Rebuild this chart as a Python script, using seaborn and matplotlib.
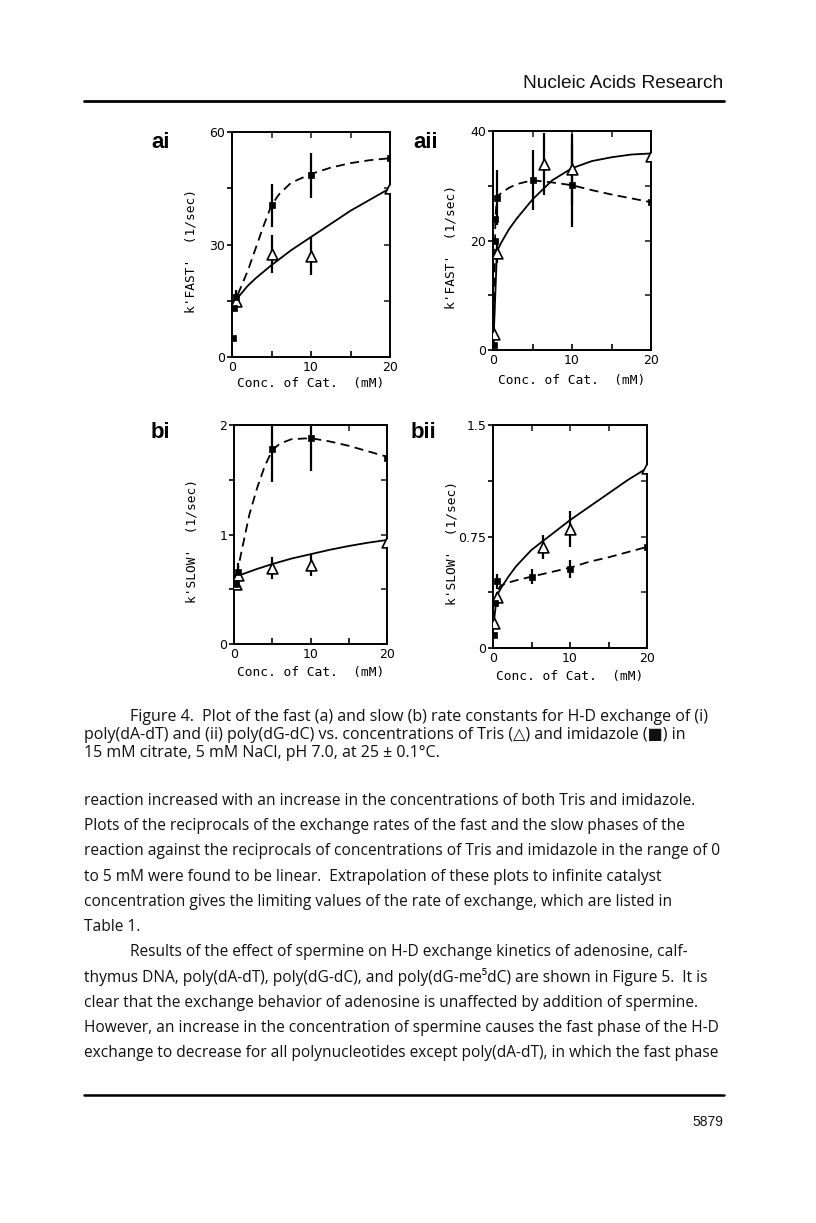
import matplotlib
matplotlib.use("Agg")
import matplotlib.pyplot as plt
import seaborn as sns

# ---------------- data ----------------
# Panel ai : k'FAST', poly(dA-dT)
ai_tris_x = [0.5, 5, 10, 20]
ai_tris_y = [15, 27.5, 27, 45]
ai_tris_err = [2, 5, 5, 0]
ai_imid_x = [0.1, 0.2, 0.5, 5, 10, 20]
ai_imid_y = [5, 13, 16, 40.5, 48.5, 53]
ai_imid_err = [0, 0, 2, 5.7, 6, 0]
ai_tris_fit_x = [0.2, 0.5, 1, 2, 3, 5, 7.5, 10, 12.5, 15, 17.5, 20]
ai_tris_fit_y = [13, 15, 16.5, 19, 21, 24.5, 28.5, 32, 35.5, 39, 42, 45]
ai_imid_fit_x = [0.2, 0.5, 1, 2, 3, 4, 5, 6, 7.5, 10, 12.5, 15, 17.5, 20]
ai_imid_fit_y = [13, 15.5, 18, 23, 29, 35, 40.5, 43.5, 46.5, 48.8, 50.5, 51.7, 52.5, 53]

# Panel aii : k'FAST', poly(dG-dC)
aii_tris_x = [0.1, 0.5, 6.5, 10, 20]
aii_tris_y = [3, 17.8, 34, 33, 35.5]
aii_tris_err = [0, 2, 5.7, 6.5, 0]
aii_imid_x = [0.1, 0.2, 0.3, 0.5, 5, 10, 20]
aii_imid_y = [1, 20, 24, 27.8, 31, 30.1, 27]
aii_imid_err = [0, 0, 0, 5, 5.5, 7.6, 0]
aii_tris_fit_x = [0.1, 0.5, 1, 2, 3, 5, 7.5, 10, 12.5, 15, 17.5, 20]
aii_tris_fit_y = [3, 18, 19.5, 22, 24, 27.5, 31, 33.2, 34.5, 35.2, 35.7, 35.9]
aii_imid_fit_x = [0.1, 0.3, 0.5, 1, 2, 3, 5, 7.5, 10, 12.5, 15, 17.5, 20]
aii_imid_fit_y = [1, 24, 28, 28.6, 29.6, 30.3, 31, 30.6, 30.1, 29.2, 28.4, 27.7, 27]

# Panel bi : k'SLOW', poly(dA-dT)
bi_tris_x = [0.2, 0.5, 5, 10, 20]
bi_tris_y = [0.55, 0.63, 0.69, 0.72, 0.93]
bi_tris_err = [0, 0.05, 0.1, 0.1, 0]
bi_imid_x = [0.2, 0.5, 5, 10, 20]
bi_imid_y = [0.55, 0.66, 1.78, 1.88, 1.70]
bi_imid_err = [0, 0.08, 0.3, 0.3, 0]
bi_tris_fit_x = [0.2, 0.5, 1, 2, 3, 5, 7.5, 10, 12.5, 15, 17.5, 20]
bi_tris_fit_y = [0.58, 0.62, 0.635, 0.66, 0.685, 0.73, 0.78, 0.82, 0.86, 0.895, 0.925, 0.95]
bi_imid_fit_x = [0.2, 0.5, 1, 2, 3, 4, 5, 6, 7.5, 10, 12.5, 15, 17.5, 20]
bi_imid_fit_y = [0.5, 0.68, 0.85, 1.18, 1.42, 1.62, 1.77, 1.83, 1.87, 1.88, 1.85, 1.81, 1.76, 1.71]

# Panel bii : k'SLOW', poly(dG-dC)
bii_tris_x = [0.1, 0.5, 6.5, 10, 20]
bii_tris_y = [0.17, 0.34, 0.68, 0.80, 1.21]
bii_tris_err = [0, 0.04, 0.08, 0.12, 0]
bii_imid_x = [0.1, 0.2, 0.5, 5, 10, 20]
bii_imid_y = [0.09, 0.30, 0.45, 0.48, 0.53, 0.68]
bii_imid_err = [0, 0, 0.05, 0.05, 0.06, 0]
bii_tris_fit_x = [0.1, 0.5, 1, 2, 3, 5, 7.5, 10, 12.5, 15, 17.5, 20]
bii_tris_fit_y = [0.17, 0.35, 0.40, 0.48, 0.55, 0.66, 0.76, 0.86, 0.95, 1.04, 1.13, 1.21]
bii_imid_fit_x = [0.2, 0.5, 1, 2, 3, 5, 7.5, 10, 12.5, 15, 17.5, 20]
bii_imid_fit_y = [0.30, 0.38, 0.42, 0.44, 0.455, 0.48, 0.51, 0.54, 0.58, 0.61, 0.645, 0.68]

x_major = [0, 10, 20]
x_minor = [5, 15]
x_tick_labels = ["0", "10", "20"]
ai_yticks, ai_yminor, ai_ylabels = [0, 30, 60], [15, 45], ["0", "30", "60"]
aii_yticks, aii_yminor, aii_ylabels = [0, 20, 40], [10, 30], ["0", "20", "40"]
bi_yticks, bi_yminor, bi_ylabels = [0, 1, 2], [0.5, 1.5], ["0", "1", "2"]
bii_yticks, bii_yminor, bii_ylabels = [0, 0.75, 1.5], [0.375, 1.125], ["0", "0.75", "1.5"]

x_title = "Conc. of Cat.  (mM)"
fast_title = "k'FAST'  (1/sec)"
slow_title = "k'SLOW'  (1/sec)"

header = "Nucleic Acids Research"
caption_lines = [
    "Figure 4.  Plot of the fast (a) and slow (b) rate constants for H-D exchange of (i)",
    "poly(dA-dT) and (ii) poly(dG-dC) vs. concentrations of Tris (\u25b3) and imidazole (\u25a0) in",
    "15 mM citrate, 5 mM NaCl, pH 7.0, at 25 \u00b1 0.1\u00b0C.",
]
body_lines = [
    "reaction increased with an increase in the concentrations of both Tris and imidazole.",
    "Plots of the reciprocals of the exchange rates of the fast and the slow phases of the",
    "reaction against the reciprocals of concentrations of Tris and imidazole in the range of 0",
    "to 5 mM were found to be linear.  Extrapolation of these plots to infinite catalyst",
    "concentration gives the limiting values of the rate of exchange, which are listed in",
    "Table 1.",
    "Results of the effect of spermine on H-D exchange kinetics of adenosine, calf-",
    "thymus DNA, poly(dA-dT), poly(dG-dC), and poly(dG-me\u2075dC) are shown in Figure 5.  It is",
    "clear that the exchange behavior of adenosine is unaffected by addition of spermine.",
    "However, an increase in the concentration of spermine causes the fast phase of the H-D",
    "exchange to decrease for all polynucleotides except poly(dA-dT), in which the fast phase",
]
page_number = "5879"

# ---------------- figure ----------------
sns.set_style("white")
plt.rcParams["font.family"] = ["DejaVu Sans"]

W, H = 816, 1223
fig = plt.figure(figsize=(W / 100, H / 100), dpi=100)
fig.patch.set_facecolor("white")


def add_axes_px(x0, y0, x1, y1):
    return fig.add_axes([x0 / W, 1 - y1 / H, (x1 - x0) / W, (y1 - y0) / H])


MONO = ["DejaVu Sans Mono"]


def panel(box, tx, ty, te, ix, iy, ie, tfx, tfy, ifx, ify,
          yticks, yminor, ylabels, ylab, letter, letter_xy, xlab_y, ylab_x):
    ax = add_axes_px(*box)
    ymax = yticks[-1]
    sns.lineplot(x=tfx, y=tfy, ax=ax, color="black", linewidth=1.3,
                 sort=False, estimator=None, zorder=2)
    sns.lineplot(x=ifx, y=ify, ax=ax, color="black", linewidth=1.3,
                 sort=False, estimator=None, linestyle=(0, (5, 3)), zorder=2)
    ax.errorbar(tx, ty, yerr=te, fmt="none", ecolor="black", elinewidth=1.6,
                capsize=0, zorder=3)
    ax.errorbar(ix, iy, yerr=ie, fmt="none", ecolor="black", elinewidth=1.6,
                capsize=0, zorder=3)
    sns.scatterplot(x=tx, y=ty, ax=ax, marker="^", s=60, facecolor="white",
                    edgecolor="black", linewidth=1.2, zorder=4)
    sns.scatterplot(x=ix, y=iy, ax=ax, marker="s", s=24, color="black",
                    edgecolor="black", linewidth=0.5, zorder=4)
    ax.set_xlim(0, 20)
    ax.set_ylim(0, ymax)
    ax.set_xticks(x_major)
    ax.set_xticks(x_minor, minor=True)
    ax.set_xticklabels(x_tick_labels)
    ax.set_yticks(yticks)
    ax.set_yticks(yminor, minor=True)
    ax.set_yticklabels(ylabels)
    for s in ax.spines.values():
        s.set_visible(True)
        s.set_linewidth(1.4)
        s.set_color("black")
    ax.tick_params(axis="x", which="both", direction="in", bottom=True,
                   length=4, width=1.2, pad=3, labelsize=9, colors="black")
    ax.tick_params(axis="y", which="both", direction="out", left=True,
                   length=3.5, width=1.2, pad=1.5, labelsize=9, colors="black")
    sec_y = ax.secondary_yaxis("right")
    sec_y.set_yticks(yticks + yminor)
    sec_y.tick_params(direction="in", length=4, width=1.2, labelright=False)
    sec_y.spines["right"].set_visible(False)
    sec_x = ax.secondary_xaxis("top")
    sec_x.set_xticks(x_major + x_minor)
    sec_x.tick_params(direction="in", length=4, width=1.2, labeltop=False)
    sec_x.spines["top"].set_visible(False)
    ax.set_xlabel(x_title, fontsize=9.3, family=MONO, color="black")
    ax.set_ylabel(ylab, fontsize=9.3, family=MONO, color="black")
    x0, y0, x1, y1 = box
    ax.xaxis.set_label_coords(0.5, (y1 - xlab_y) / (y1 - y0))
    ax.yaxis.set_label_coords((ylab_x - x0) / (x1 - x0), 0.47)
    fig.text(letter_xy[0] / W, 1 - letter_xy[1] / H, letter, fontsize=16,
             fontweight="bold", family=["Liberation Sans"], ha="left",
             va="center", color="black")
    return ax


panel((232, 132, 390, 357), ai_tris_x, ai_tris_y, ai_tris_err,
      ai_imid_x, ai_imid_y, ai_imid_err,
      ai_tris_fit_x, ai_tris_fit_y, ai_imid_fit_x, ai_imid_fit_y,
      ai_yticks, ai_yminor, ai_ylabels, fast_title, "ai", (151, 143), 377, 198)
panel((493, 131, 651, 350), aii_tris_x, aii_tris_y, aii_tris_err,
      aii_imid_x, aii_imid_y, aii_imid_err,
      aii_tris_fit_x, aii_tris_fit_y, aii_imid_fit_x, aii_imid_fit_y,
      aii_yticks, aii_yminor, aii_ylabels, fast_title, "aii", (413, 143), 374, 458)
panel((234, 425, 387, 644), bi_tris_x, bi_tris_y, bi_tris_err,
      bi_imid_x, bi_imid_y, bi_imid_err,
      bi_tris_fit_x, bi_tris_fit_y, bi_imid_fit_x, bi_imid_fit_y,
      bi_yticks, bi_yminor, bi_ylabels, slow_title, "bi", (151, 433), 666, 199)
panel((493, 425, 647, 648), bii_tris_x, bii_tris_y, bii_tris_err,
      bii_imid_x, bii_imid_y, bii_imid_err,
      bii_tris_fit_x, bii_tris_fit_y, bii_imid_fit_x, bii_imid_fit_y,
      bii_yticks, bii_yminor, bii_ylabels, slow_title, "bii", (411, 433), 670, 459)

# ---------------- page text ----------------
TXT = ["Open Sans", "DejaVu Sans"]
fig.text(723 / W, 1 - 83 / H, header, fontsize=13.8, family=["Liberation Sans"],
         ha="right", va="center", color="#111111")
fig.add_artist(plt.Line2D([84 / W, 724 / W], [1 - 101 / H, 1 - 101 / H],
                          color="black", linewidth=2.0))

cap_y = [717, 735, 753]
for i, (line, yy) in enumerate(zip(caption_lines, cap_y)):
    xx = 130 if i == 0 else 84
    fig.text(xx / W, 1 - yy / H, line, fontsize=11.5, family=TXT,
             ha="left", va="center", color="#111111")

for i, line in enumerate(body_lines):
    yy = 801 + 25.2 * i
    xx = 130 if i == 6 else 84
    fig.text(xx / W, 1 - yy / H, line, fontsize=11.2, family=TXT,
             ha="left", va="center", color="#111111")

fig.add_artist(plt.Line2D([84 / W, 724 / W], [1 - 1095 / H, 1 - 1095 / H],
                          color="black", linewidth=1.8))
fig.text(723 / W, 1 - 1122 / H, page_number, fontsize=10, family=["Liberation Sans"],
         ha="right", va="center", color="#111111")

fig.savefig("out.png", dpi=100, facecolor="white")
